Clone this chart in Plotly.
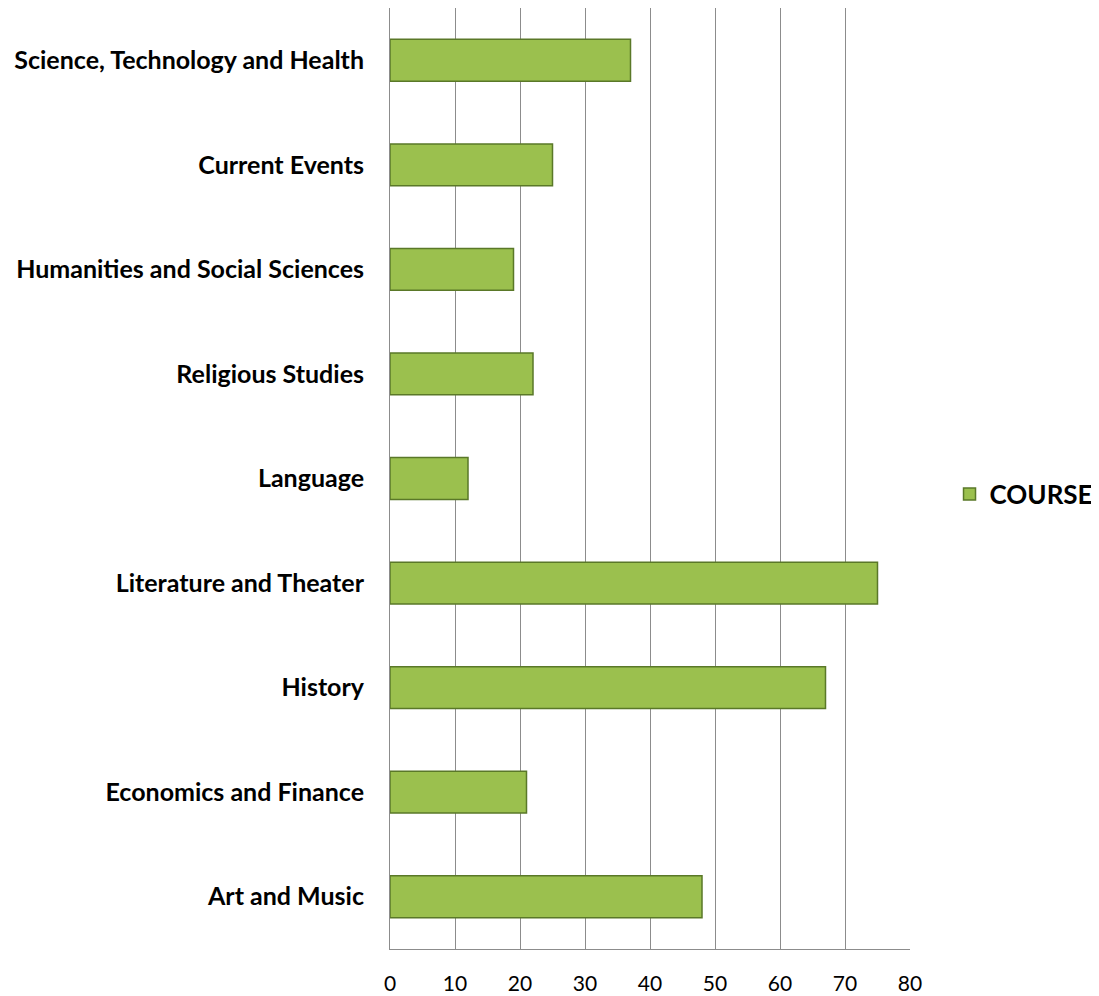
import plotly.graph_objects as go

categories = [
    "Art and Music",
    "Economics and Finance",
    "History",
    "Literature and Theater",
    "Language",
    "Religious Studies",
    "Humanities and Social Sciences",
    "Current Events",
    "Science, Technology and Health",
]
values = [48, 21, 67, 75, 12, 22, 19, 25, 37]
series_name = "COURSE"
x_ticks = [0, 10, 20, 30, 40, 50, 60, 70, 80]

fig = go.Figure()
fig.add_trace(go.Bar(
    y=categories,
    x=values,
    orientation="h",
    name=series_name,
    marker=dict(color="#9BC04E", line=dict(color="#5A7828", width=1.5)),
    showlegend=True,
))

fig.update_layout(
    width=1091,
    height=988,
    margin=dict(l=382, r=189, t=0, b=47, autoexpand=False),
    paper_bgcolor="white",
    plot_bgcolor="white",
    bargap=0.6,
    font=dict(family="Lato, Carlito, Calibri, sans-serif", color="black"),
    showlegend=True,
    legend=dict(
        x=1.076, y=0.4835, xanchor="left", yanchor="middle",
        font=dict(size=26, family="Lato, sans-serif", weight="bold"),
        bgcolor="rgba(0,0,0,0)",
        itemwidth=30,
    ),
    xaxis=dict(
        range=[0, 80],
        tickvals=x_ticks,
        showgrid=True,
        gridcolor="#8C8C8C",
        gridwidth=1,
        showline=True,
        linecolor="#8C8C8C",
        linewidth=1,
        zeroline=False,
        ticks="",
        ticklabelstandoff=16,
        tickfont=dict(size=21, family="Lato, sans-serif"),
        automargin=False,
    ),
    yaxis=dict(
        showgrid=False,
        showline=True,
        linecolor="#8C8C8C",
        linewidth=1,
        ticks="",
        ticklabelstandoff=20,
        tickfont=dict(size=25, family="Lato, sans-serif", weight="bold"),
        automargin=False,
    ),
)

fig.write_html("out.html")
